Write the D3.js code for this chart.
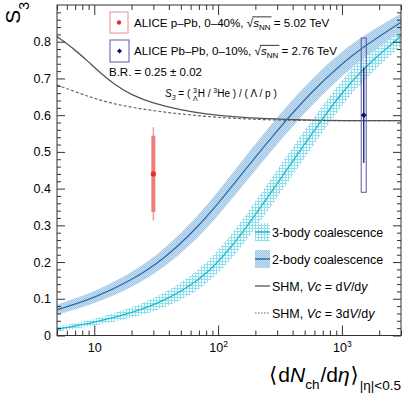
<!DOCTYPE html>
<html>
<head>
<meta charset="utf-8">
<script src="https://cdn.jsdelivr.net/npm/d3@7"></script>
<style>
  body { margin: 0; background: #fff; }
  svg { display: block; }
  text { font-family: "Liberation Sans", Arial, "DejaVu Sans", sans-serif; fill: #000; white-space: pre; }
</style>
</head>
<body>
<script>
const width = 407;
const height = 393;

// coalescence curves (x = <dNch/deta>, y = S3, err = half width of band)
const twoBodyX = [5, 10, 20, 37, 70, 105, 153, 290, 575, 1000, 1455, 3000];
const twoBodyY = [0.070, 0.102, 0.150, 0.209, 0.298, 0.368, 0.437, 0.553, 0.666, 0.740, 0.784, 0.853];
const twoBodyErr = [0.014, 0.016, 0.020, 0.025, 0.030, 0.033, 0.035, 0.037, 0.036, 0.034, 0.031, 0.024];
const threeBodyX = [5, 10, 20, 37, 70, 105, 153, 290, 465, 665, 1000, 1455, 3000];
const threeBodyY = [0.017, 0.035, 0.061, 0.094, 0.149, 0.207, 0.273, 0.406, 0.506, 0.581, 0.661, 0.725, 0.816];
const threeBodyErr = [0.006, 0.009, 0.014, 0.020, 0.027, 0.032, 0.035, 0.038, 0.038, 0.037, 0.035, 0.033, 0.027];

// statistical hadronisation model
const shmX = [5, 7, 9, 11, 15, 20, 30, 50, 80, 130, 250, 500, 1000, 3000];
const shmY = [0.814, 0.778, 0.745, 0.717, 0.680, 0.655, 0.632, 0.614, 0.603, 0.596, 0.590, 0.587, 0.585, 0.585];
const shm3X = [5, 7, 9, 12, 20, 35, 60, 120, 250, 600, 3000];
const shm3Y = [0.682, 0.664, 0.651, 0.637, 0.621, 0.609, 0.600, 0.592, 0.587, 0.585, 0.585];

// ALICE points: p-Pb 0-40%, Pb-Pb 0-10%
const expX = [30, 1500];
const expY = [0.44, 0.60];
const expStat = [0.127, 0.13];
const expSyst = [0.104, 0.21];

const yTicks = [0, 0.1, 0.2, 0.3, 0.4, 0.5, 0.6, 0.7, 0.8];
const xTicks = [10, 100, 1000];
const xTickExp = [null, '2', '3'];

const svg = d3.select('body').append('svg')
  .attr('width', width)
  .attr('height', height);

const x = d3.scaleLog().domain([5, 3000]).range([57, 401]);
const y = d3.scaleLinear().domain([0, 0.9]).range([335.5, 5]);

const defs = svg.append('defs');
defs.append('clipPath').attr('id', 'clip')
  .append('rect').attr('x', 57).attr('y', 5).attr('width', 344).attr('height', 330.5);

// stippled blue fill for 2-body band
const p2 = defs.append('pattern').attr('id', 'fill2').attr('width', 2).attr('height', 2)
  .attr('patternUnits', 'userSpaceOnUse');
p2.append('rect').attr('width', 2).attr('height', 2).attr('fill', '#c4ddf1');
p2.append('rect').attr('width', 1).attr('height', 1).attr('fill', '#a3c8e6');
p2.append('rect').attr('x', 1).attr('y', 1).attr('width', 1).attr('height', 1).attr('fill', '#a3c8e6');

// cyan cross hatch for 3-body band
const p3 = defs.append('pattern').attr('id', 'fill3').attr('width', 3).attr('height', 3)
  .attr('patternUnits', 'userSpaceOnUse');
p3.append('rect').attr('width', 3).attr('height', 1).attr('fill', '#8ee0ee');
p3.append('rect').attr('width', 1).attr('height', 3).attr('fill', '#8ee0ee');

const plot = svg.append('g').attr('clip-path', 'url(#clip)');

function band(xs, ys, errs, fill) {
  const pts = xs.map((v, i) => ({x: v, lo: ys[i] - errs[i], hi: ys[i] + errs[i]}));
  plot.append('path').datum(pts)
    .attr('d', d3.area().x(d => x(d.x)).y0(d => y(d.lo)).y1(d => y(d.hi)).curve(d3.curveBasis))
    .attr('fill', fill);
}

function curve(xs, ys, color, w, dash) {
  plot.append('path').datum(xs.map((v, i) => [v, ys[i]]))
    .attr('d', d3.line().x(d => x(d[0])).y(d => y(d[1])).curve(d3.curveBasis))
    .attr('fill', 'none')
    .attr('stroke', color)
    .attr('stroke-width', w)
    .attr('stroke-dasharray', dash || null);
}

band(threeBodyX, threeBodyY, threeBodyErr, 'url(#fill3)');
band(twoBodyX, twoBodyY, twoBodyErr, 'url(#fill2)');
curve(shm3X, shm3Y, '#666', 1.2, '3,2');
curve(shmX, shmY, '#555', 1.3);
curve(threeBodyX, threeBodyY, '#1fb9cf', 1.3);
curve(twoBodyX, twoBodyY, '#2b6db0', 1.3);

// axes
const minorX = x.ticks().filter(v => !xTicks.includes(v));
const minorY = d3.range(0, 0.9, 0.02).filter(v => Math.abs(Math.round(v * 10) - v * 10) > 1e-6);

function axis(gen, tr, vals, size, fmt, pad) {
  const g = svg.append('g')
    .attr('transform', tr)
    .attr('color', '#333')
    .call(gen.tickValues(vals).tickSize(size).tickSizeOuter(0)
      .tickPadding(pad || 3).tickFormat(fmt || (() => '')));
  g.select('.domain').remove();
  g.attr('font-family', null).attr('font-size', 12.5);
  return g;
}

const bottom = axis(d3.axisBottom(x), `translate(0,${y(0)})`, xTicks, -10, () => '10', 8);
bottom.selectAll('text').each(function(d, i) {
  if (xTickExp[i]) {
    d3.select(this).append('tspan').attr('dy', -5).attr('font-size', 8.5).text(xTickExp[i]);
  }
});
axis(d3.axisBottom(x), `translate(0,${y(0)})`, minorX, -5);
axis(d3.axisTop(x), `translate(0,${y(0.9)})`, xTicks, -10);
axis(d3.axisTop(x), `translate(0,${y(0.9)})`, minorX, -5);
axis(d3.axisLeft(y), `translate(${x(5)},0)`, yTicks, -8, d => d === 0 ? '0' : d.toFixed(1), 6);
axis(d3.axisLeft(y), `translate(${x(5)},0)`, minorY, -4);
axis(d3.axisRight(y), `translate(${x(3000)},0)`, yTicks, -8);
axis(d3.axisRight(y), `translate(${x(3000)},0)`, minorY, -4);

svg.append('rect')
  .attr('x', x(5)).attr('y', y(0.9))
  .attr('width', x(3000) - x(5)).attr('height', y(0) - y(0.9))
  .attr('fill', 'none').attr('stroke', '#333');

// text made of pieces (italics, sub/superscripts)
function rich(x0, y0, parts, size, anchor) {
  const g = svg.append('g');
  let cx = 0;
  let olA = null, olB = null;
  parts.forEach(p => {
    const t = g.append('text')
      .attr('x', cx).attr('y', p.dy || 0)
      .attr('font-size', p.size || size)
      .attr('font-style', p.it ? 'italic' : null)
      .text(p.t);
    const w = t.node().getComputedTextLength();
    if (p.ol) {
      if (olA === null) olA = cx;
      olB = cx + w;
    }
    if (!p.noAdv) cx += w + (p.gap || 0);
  });
  if (olA !== null) {
    g.append('line').attr('x1', olA - 1).attr('x2', olB + 1)
      .attr('y1', -size * 0.83).attr('y2', -size * 0.83)
      .attr('stroke', '#000').attr('stroke-width', 0.8);
  }
  const shift = anchor === 'end' ? -cx : 0;
  g.attr('transform', `translate(${x0 + shift},${y0})`);
  return g;
}

// axis titles
rich(401, 382, [
  {t: '⟨', gap: 1}, {t: 'd'}, {t: 'N', it: true}, {t: 'ch', size: 13.5, dy: 7, gap: 1}, {t: '/d'},
  {t: 'η', it: true, gap: 1}, {t: '⟩', gap: 1}, {t: '|η|<0.5', size: 13.5, dy: 8}
], 21, 'end');

const yt = svg.append('text')
  .attr('transform', 'translate(20,2) rotate(-90)')
  .attr('text-anchor', 'end')
  .attr('font-size', 21);
yt.append('tspan').text('S');
yt.append('tspan').attr('dy', 9).attr('font-size', 14).text('3');

// experimental points
const red = '#e03030';
const navy = '#0c1466';
svg.append('line')
  .attr('x1', x(expX[0])).attr('x2', x(expX[0]))
  .attr('y1', y(expY[0] - expStat[0])).attr('y2', y(expY[0] + expStat[0]))
  .attr('stroke', '#f0a0a0').attr('stroke-width', 1.5);
svg.append('rect')
  .attr('x', x(expX[0]) - 2).attr('width', 4)
  .attr('y', y(expY[0] + expSyst[0])).attr('height', y(expY[0] - expSyst[0]) - y(expY[0] + expSyst[0]))
  .attr('fill', '#ec7e7e');
svg.append('circle').attr('cx', x(expX[0])).attr('cy', y(expY[0])).attr('r', 2.6).attr('fill', red);

svg.append('rect')
  .attr('x', x(expX[1]) - 2.5).attr('width', 5)
  .attr('y', y(expY[1] + expSyst[1])).attr('height', y(expY[1] - expSyst[1]) - y(expY[1] + expSyst[1]))
  .attr('fill', 'none').attr('stroke', '#5656a8').attr('stroke-width', 1);
svg.append('line')
  .attr('x1', x(expX[1])).attr('x2', x(expX[1]))
  .attr('y1', y(expY[1] - expStat[1])).attr('y2', y(expY[1] + expStat[1]))
  .attr('stroke', '#2a2f8a').attr('stroke-width', 1.5);
svg.append('path')
  .attr('d', d3.symbol(d3.symbolDiamond2, 22)())
  .attr('transform', `translate(${x(expX[1])},${y(expY[1])})`)
  .attr('fill', navy);

// top legend
svg.append('rect').attr('x', 110).attr('y', 12).attr('width', 18).attr('height', 21)
  .attr('fill', 'none').attr('stroke', '#ec8c8c');
svg.append('circle').attr('cx', 119).attr('cy', 22.5).attr('r', 2.2).attr('fill', red);
svg.append('rect').attr('x', 110).attr('y', 40).attr('width', 19).attr('height', 22)
  .attr('fill', 'none').attr('stroke', '#5a5aa8');
svg.append('path').attr('d', d3.symbol(d3.symbolDiamond2, 16)())
  .attr('transform', 'translate(119.5,51)').attr('fill', navy);

rich(134, 26.5, [
  {t: 'ALICE p–Pb, 0–40%, '}, {t: '√'}, {t: 's', it: true, ol: true},
  {t: 'NN', size: 8, dy: 3, ol: true}, {t: ' = 5.02 TeV'}
], 11.6);
rich(134, 55, [
  {t: 'ALICE Pb–Pb, 0–10%, '}, {t: '√'}, {t: 's', it: true, ol: true},
  {t: 'NN', size: 8, dy: 3, ol: true}, {t: ' = 2.76 TeV'}
], 11.6);

rich(109, 76, [{t: 'B.R. = 0.25 ± 0.02'}], 11.5);
rich(165, 97, [
  {t: 'S', it: true}, {t: '3', it: true, size: 7, dy: 3}, {t: ' = ( '},
  {t: '3', size: 7, dy: -4, noAdv: true}, {t: 'Λ', size: 7, dy: 4}, {t: 'H / '},
  {t: '3', size: 7, dy: -4}, {t: 'He ) / ( Λ / p )'}
], 10);

// bottom legend
const legY = [232, 259, 286, 313];
svg.append('rect').attr('x', 255).attr('y', legY[0] - 9).attr('width', 15).attr('height', 18)
  .attr('fill', 'url(#fill3)');
svg.append('line').attr('x1', 255).attr('x2', 270).attr('y1', legY[0]).attr('y2', legY[0])
  .attr('stroke', '#1fb9cf').attr('stroke-width', 1.5);
svg.append('rect').attr('x', 255).attr('y', legY[1] - 9).attr('width', 15).attr('height', 18)
  .attr('fill', 'url(#fill2)');
svg.append('line').attr('x1', 255).attr('x2', 270).attr('y1', legY[1]).attr('y2', legY[1])
  .attr('stroke', '#2b6db0').attr('stroke-width', 1.5);
svg.append('line').attr('x1', 255).attr('x2', 270).attr('y1', legY[2]).attr('y2', legY[2])
  .attr('stroke', '#555').attr('stroke-width', 1.3);
svg.append('line').attr('x1', 255).attr('x2', 270).attr('y1', legY[3]).attr('y2', legY[3])
  .attr('stroke', '#666').attr('stroke-width', 1.2).attr('stroke-dasharray', '1.5,1.5');

rich(272, legY[0] + 4.5, [{t: '3-body coalescence'}], 12.5);
rich(272, legY[1] + 4.5, [{t: '2-body coalescence'}], 12.5);
rich(272, legY[2] + 4.5, [
  {t: 'SHM, '}, {t: 'Vc', it: true}, {t: ' = d'}, {t: 'V', it: true}, {t: '/d'}, {t: 'y', it: true}
], 12.5);
rich(272, legY[3] + 4.5, [
  {t: 'SHM, '}, {t: 'Vc', it: true}, {t: ' = 3d'}, {t: 'V', it: true}, {t: '/d'}, {t: 'y', it: true}
], 12.5);
</script>
</body>
</html>
